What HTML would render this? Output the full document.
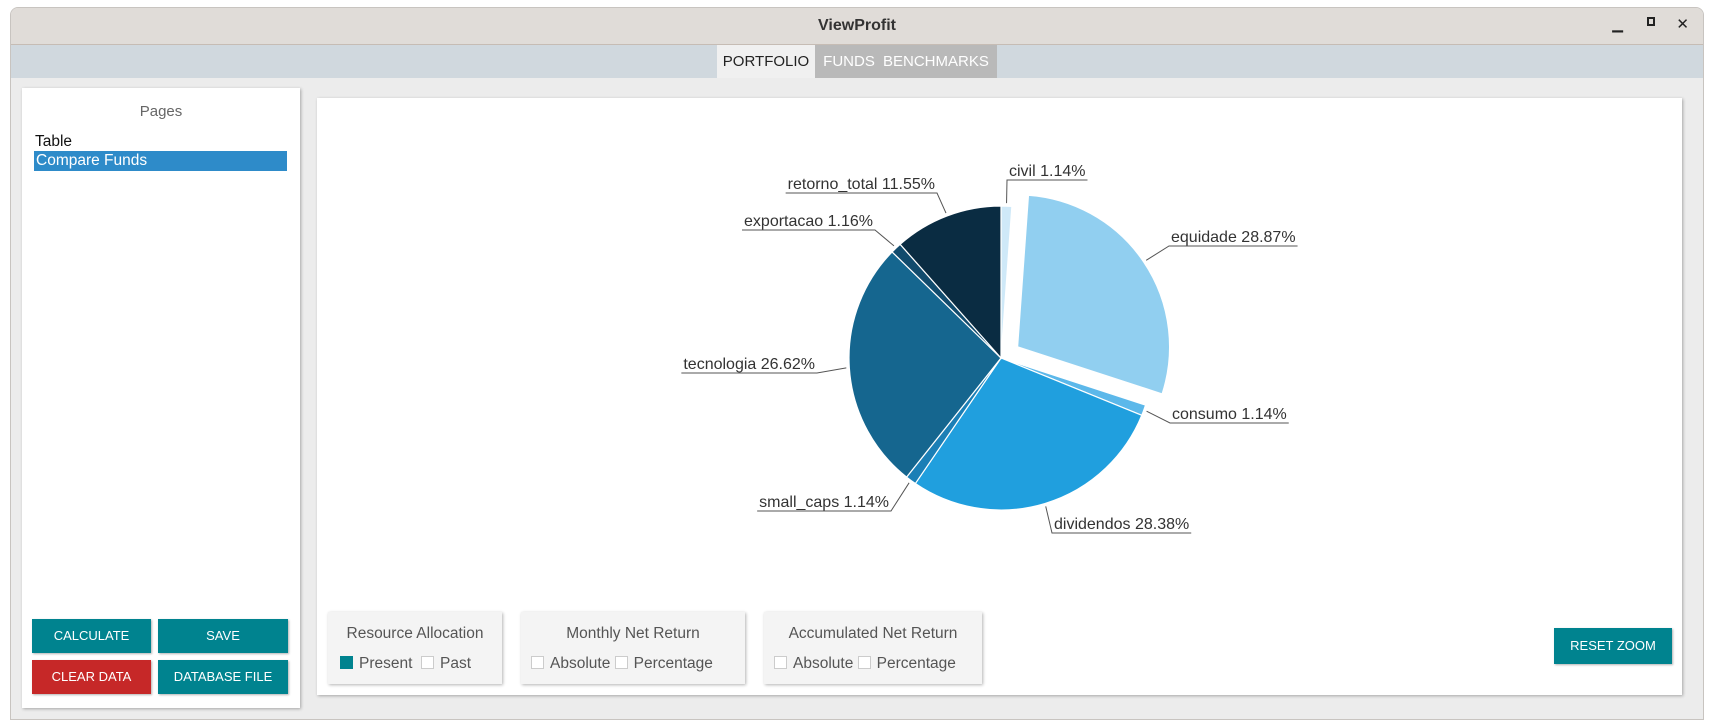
<!DOCTYPE html>
<html><head><meta charset="utf-8">
<style>
*{box-sizing:border-box;margin:0;padding:0}
body{width:1714px;height:727px;background:#fff;font-family:"Liberation Sans",sans-serif;position:relative;overflow:hidden}
.abs{position:absolute}
.win{left:10px;top:7px;width:1694px;height:713px;border:1px solid #c8c4c0;border-radius:8px 8px 0 0;background:#ececec;overflow:hidden}
.title{left:0;top:0;width:100%;height:37px;background:#e0dcd8;border-bottom:1px solid #c6bcb4;text-align:center;line-height:36px;font-weight:bold;font-size:16px;color:#333}
.tabs{left:0;top:37px;width:100%;height:33px;background:#d0d8de}
.tab{top:0;height:33px;line-height:33px;font-size:15px;text-align:center}
.panel{background:#fff;box-shadow:1px 1px 3px rgba(0,0,0,.3)}
.btn{color:#fff;font-size:13px;text-align:center;box-shadow:1px 1px 2px rgba(0,0,0,.3)}
.box{background:#f4f4f4;box-shadow:1px 1px 3px rgba(0,0,0,.3);font-size:15.5px;color:#555}
.cb{display:inline-block;width:13px;height:13px;border:1px solid #ccc;background:#fff;vertical-align:-1px;margin-right:6px}
</style></head><body>
<div class="abs win">
 <div class="abs title">ViewProfit</div>
 <div class="abs" style="right:80px;top:8px;font-size:14px;color:#222">▁</div>
 <div class="abs" style="right:48px;top:9px;width:8px;height:9px;border:2px solid #222"></div>
 <div class="abs" style="right:14px;top:7px;font-size:15px;color:#222">✕</div>
 <div class="abs tabs">
  <div class="abs tab" style="left:706px;width:98px;background:#f0f0f0;color:#222">PORTFOLIO</div>
  <div class="abs tab" style="left:804px;width:182px;background:#b9b9b9;color:#fff;word-spacing:4px">FUNDS BENCHMARKS</div>
 </div>
 <div class="abs panel" style="left:11px;top:80px;width:278px;height:620px">
  <div class="abs" style="left:0;width:100%;top:15px;text-align:center;font-size:15px;color:#666">Pages</div>
  <div class="abs" style="left:13px;top:45px;font-size:15.5px;color:#111">Table</div>
  <div class="abs" style="left:12px;top:63px;width:253px;height:20px;background:#2e8bc9;color:#fff;font-size:15.5px;padding-left:2px;line-height:20px">Compare Funds</div>
  <div class="abs btn" style="left:10px;top:531px;width:119px;height:34px;line-height:34px;background:#00838f">CALCULATE</div>
  <div class="abs btn" style="left:136px;top:531px;width:130px;height:34px;line-height:34px;background:#00838f">SAVE</div>
  <div class="abs btn" style="left:10px;top:572px;width:119px;height:34px;line-height:34px;background:#c62828">CLEAR DATA</div>
  <div class="abs btn" style="left:136px;top:572px;width:130px;height:34px;line-height:34px;background:#00838f">DATABASE FILE</div>
 </div>
 <div class="abs panel" style="left:306px;top:90px;width:1365px;height:597px">
  <svg id="pie" class="abs" style="left:0;top:0" width="1365" height="597"></svg>
  <div class="abs box" style="left:11px;top:514px;width:174px;height:72px">
   <div style="text-align:center;margin-top:13px">Resource Allocation</div>
   <div style="margin:12px 0 0 12px"><span class="cb" style="background:#00838f;border-color:#00838f"></span>Present &nbsp;<span class="cb"></span>Past</div>
  </div>
  <div class="abs box" style="left:204px;top:514px;width:224px;height:72px">
   <div style="text-align:center;margin-top:13px">Monthly Net Return</div>
   <div style="margin:12px 0 0 10px"><span class="cb"></span>Absolute <span class="cb"></span>Percentage</div>
  </div>
  <div class="abs box" style="left:447px;top:514px;width:218px;height:72px">
   <div style="text-align:center;margin-top:13px">Accumulated Net Return</div>
   <div style="margin:12px 0 0 10px"><span class="cb"></span>Absolute <span class="cb"></span>Percentage</div>
  </div>
  <div class="abs btn" style="left:1237px;top:530px;width:118px;height:36px;line-height:36px;background:#00838f">RESET ZOOM</div>
 </div>
</div>
<script>
const categories=["civil","equidade","consumo","dividendos","small_caps","tecnologia","exportacao","retorno_total"];
const values=[1.14,28.87,1.14,28.38,1.14,26.62,1.16,11.55];
const colors=["#cfe9f8","#91cff0","#5cb8ea","#209fde","#1b7fb6","#15668f","#114b6d","#0a2c42"];
const exploded=[false,true,false,false,false,false,false,false];
const labelPos=[[690,82,"r"],[852,148,"r"],[853,325,"r"],[735,435,"r"],[574,413,"l"],[500,275,"l"],[558,132,"l"],[620,95,"l"]];
const svg=document.getElementById('pie');const NS="http://www.w3.org/2000/svg";
const cx=684,cy=260,R=152,ex=20;
const tot=values.reduce((a,b)=>a+b,0);
let a0=0;
values.forEach((v,i)=>{
 const a1=a0+v/tot*2*Math.PI,am=(a0+a1)/2;
 const dx=exploded[i]?ex*Math.sin(am):0,dy=exploded[i]?-ex*Math.cos(am):0;
 const x=cx+dx,y=cy+dy;
 const p=document.createElementNS(NS,'path');
 const large=(a1-a0)>Math.PI?1:0;
 p.setAttribute('d',`M${x},${y}L${x+R*Math.sin(a0)},${y-R*Math.cos(a0)}A${R},${R} 0 ${large} 1 ${x+R*Math.sin(a1)},${y-R*Math.cos(a1)}Z`);
 p.setAttribute('fill',colors[i]);p.setAttribute('stroke','#fff');p.setAttribute('stroke-width','1.2');
 
 
 svg.appendChild(p);
 const sx=x+(R+3)*Math.sin(am),sy=y-(R+3)*Math.cos(am);
 const [lx,ly,side]=labelPos[i];
 const txt=categories[i]+" "+values[i].toFixed(2)+"%";
 const t=document.createElementNS(NS,'text');
 t.textContent=txt;t.setAttribute('font-size','16');t.setAttribute('fill','#333');t.setAttribute('font-family','Liberation Sans, sans-serif');
 t.setAttribute('y',ly-4);
 
 
 svg.appendChild(t);
 const w=t.getComputedTextLength();
 let x1,x2;
 if(side==="r"){x1=lx;x2=lx+w+4;t.setAttribute('x',lx+2);}else{x2=lx;x1=lx-w-4;t.setAttribute('x',x1+2);}
 const l=document.createElementNS(NS,'polyline');
 l.setAttribute('points',`${sx},${sy} ${lx},${ly} ${side==="r"?x2:x1},${ly}`);
 l.setAttribute('fill','none');l.setAttribute('stroke','#555');l.setAttribute('stroke-width','1');
 
 
 svg.appendChild(l);
 a0=a1;
});
</script>
</body></html>
